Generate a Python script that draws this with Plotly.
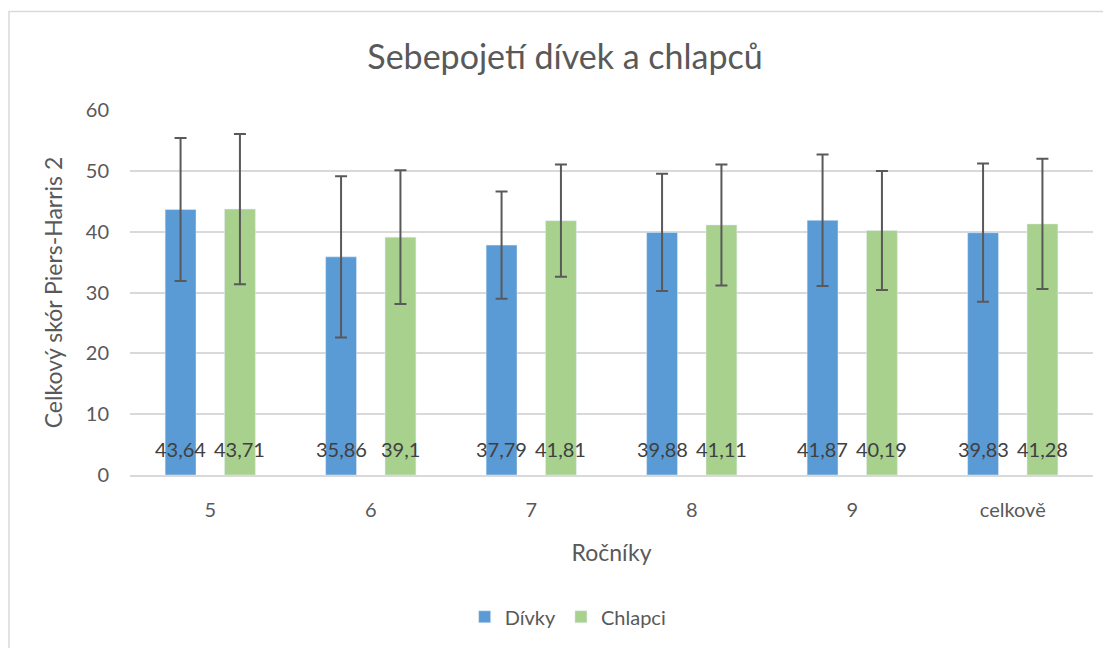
import plotly.graph_objects as go

categories = ["5", "6", "7", "8", "9", "celkově"]
divky = [43.64, 35.86, 37.79, 39.88, 41.87, 39.83]
chlapci = [43.71, 39.10, 41.81, 41.11, 40.19, 41.28]
divky_sd = [11.75, 13.25, 8.80, 9.65, 10.80, 11.36]
chlapci_sd = [12.34, 10.98, 9.23, 9.95, 9.78, 10.71]
y_ticks = [0, 10, 20, 30, 40, 50, 60]

FONT = "Lato"
TXT = "#595959"
BLUE = "#5B9BD5"
GREEN = "#A9D18E"
ERR = "#595959"

# page body has an 8px margin: figure coords = page coords - 8
OFF = 8
W, H = 1111 - OFF, 648 - OFF
PL, PT, PW, PH = 130 - OFF, 110 - OFF, 963, 367

bargap = 0.26
fig = go.Figure()
fig.add_trace(go.Bar(
    name="Dívky", x=categories, y=divky, marker_color=BLUE,
    error_y=dict(type="data", array=divky_sd, visible=True, color=ERR, thickness=2, width=6),
))
fig.add_trace(go.Bar(
    name="Chlapci", x=categories, y=chlapci, marker_color=GREEN,
    error_y=dict(type="data", array=chlapci_sd, visible=True, color=ERR, thickness=2, width=6),
))

def fmt(v):
    s = ("%.2f" % v).rstrip("0").rstrip(".")
    return s.replace(".", ",")

slot_off = (1 - bargap) / 4.0
for i, (a, b) in enumerate(zip(divky, chlapci)):
    for off, v in ((-slot_off, a), (slot_off, b)):
        fig.add_annotation(x=i + off, y=0, xref="x", yref="y", text=fmt(v),
                           showarrow=False, yanchor="bottom", yshift=12,
                           font=dict(family=FONT, size=20, color="#404040"))

# chart border (page coords converted to paper coords)
def px_x(p):
    return (p - OFF - PL) / PW

def px_y(p):
    return (PT + PH - (p - OFF)) / PH

fig.add_shape(type="rect", xref="paper", yref="paper",
              x0=px_x(9), x1=px_x(1130), y0=px_y(660), y1=px_y(11),
              line=dict(color="#D9D9D9", width=1.5), fillcolor="rgba(0,0,0,0)", layer="below")

fig.update_layout(
    width=W, height=H,
    margin=dict(l=PL, r=W - PL - PW, t=PT, b=H - PT - PH),
    paper_bgcolor="white", plot_bgcolor="white",
    barmode="group", bargap=bargap, bargroupgap=0.48,
    title=dict(text="Sebepojetí dívek a chlapců", x=(565 - OFF) / W, xanchor="center",
               y=1 - (57 - OFF) / H, yanchor="middle",
               font=dict(family=FONT, size=34, color=TXT)),
    font=dict(family=FONT, color=TXT),
    xaxis=dict(title=dict(text="Ročníky", font=dict(family=FONT, size=23, color=TXT), standoff=25),
               tickfont=dict(family=FONT, size=20, color=TXT),
               showline=True, linecolor="#D9D9D9", linewidth=1.5, ticks="",
               ticklabelstandoff=16),
    yaxis=dict(title=dict(text="Celkový skór Piers-Harris 2", font=dict(family=FONT, size=23, color=TXT), standoff=16),
               tickfont=dict(family=FONT, size=20, color=TXT),
               range=[0, 60], tickvals=y_ticks, showgrid=True, gridcolor="#D9D9D9", gridwidth=1.5,
               zeroline=False, ticks="", ticklabelstandoff=20),
    legend=dict(orientation="h", x=0.455, xanchor="center", y=-0.335, yanchor="top",
                font=dict(family=FONT, size=20, color=TXT), itemwidth=30),
    showlegend=True,
)

fig.write_html("out.html")
